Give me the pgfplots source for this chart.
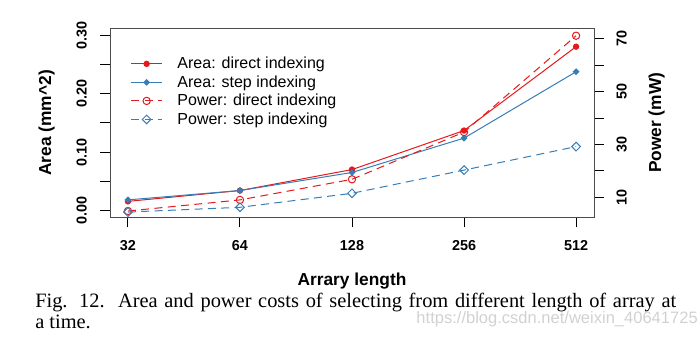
\documentclass[border=0pt]{standalone}
\usepackage{pgfplots}
\pgfplotsset{compat=1.18}
\usepackage{fontspec}
\setmainfont{Liberation Serif}
\newfontfamily\hel{Liberation Sans}
\definecolor{cred}{HTML}{E41A1C}
\definecolor{cblue}{HTML}{377EB8}
\begin{document}
\begin{tikzpicture}[x=1pt,y=1pt]
\path[use as bounding box] (0,0) rectangle (523.5,252);
\pgfplotsset{
  common/.style={
    at={(82.5pt,89pt)}, anchor=south west,
    scale only axis, width=363pt, height=141.75pt,
    xmin=-0.16, xmax=4.16,
    tick align=outside, major tick length=7.5pt,
    tick style={black, line width=0.75pt},
    ticklabel style={font=\hel\bfseries\fontsize{10.8}{12}\selectfont},
  },
  every axis plot/.append style={line width=0.75pt},
}
\begin{axis}[common,
  ymin=-0.012, ymax=0.3125,
  axis line style={black!70, line width=0.75pt},
  xtick={0,1,2,3,4}, xticklabels={32,64,128,256,512},
  xtick pos=bottom, ytick pos=left,
  ytick={0,0.05,0.1,0.15,0.2,0.25,0.3},
  yticklabels={0.00,,0.10,,0.20,,0.30},
  yticklabel style={anchor=center, xshift=-13.7pt, rotate=90},
  xticklabel style={anchor=center, yshift=-13.8pt},
  every axis x label/.style={at={(rel axis cs:0.5,0)}, anchor=center, yshift=-47.5pt, font=\hel\bfseries\fontsize{13}{15}\selectfont},
  every axis y label/.style={at={(rel axis cs:0,0.5)}, anchor=center, xshift=-47.5pt, rotate=90, font=\hel\bfseries\fontsize{13}{15}\selectfont},
  xlabel={Arrary length},
  ylabel={Area (mm\^{}2)},
]
\addplot[cred, mark=*, mark size=2pt] coordinates {(0,0.0154)(1,0.034)(2,0.070)(3,0.137)(4,0.281)};
\addplot[cblue, mark=square*, mark size=1.45pt, mark options={rotate=45}] coordinates {(0,0.018)(1,0.034)(2,0.065)(3,0.124)(4,0.238)};
\end{axis}
\begin{axis}[common,
  ymin=2.4, ymax=74,
  axis x line=none, axis y line*=right,
  axis line style={black!70, line width=0.75pt},
  ytick={10,20,30,40,50,60,70},
  yticklabels={10,,30,,50,,70},
  yticklabel style={anchor=center, xshift=13.3pt, rotate=90},
  every axis y label/.style={at={(rel axis cs:1,0.5)}, anchor=center, xshift=47pt, rotate=90, font=\hel\bfseries\fontsize{13}{15}\selectfont},
  ylabel={Power (mW)},
  legend cell align=left,
  legend style={draw=none, fill=none, inner sep=0pt, outer sep=0pt,
    at={(axis description cs:0.043,0.848)}, anchor=north west,
    row sep=3.7pt, column sep=11.25pt,
    font=\hel\fontsize{12}{14}\selectfont,
    nodes={inner sep=0pt}},
  legend image code/.code={\draw[mark repeat=2, mark phase=2, #1] plot coordinates {(0pt,0pt) (11.5pt,0pt) (23pt,0pt)};},
]
\addlegendimage{cred, line width=0.75pt, mark=*, mark size=2pt}
\addlegendentry{Area: direct indexing}
\addlegendimage{cblue, line width=0.75pt, mark=square*, mark size=1.45pt, mark options={rotate=45}}
\addlegendentry{Area: step indexing}
\addplot[cred, dash pattern=on 6pt off 4pt, mark=o, mark size=2.75pt, mark options={solid}] coordinates {(0,4.8)(1,9.0)(2,16.8)(3,34.7)(4,71.2)};
\addlegendentry{Power: direct indexing}
\addplot[cblue, dash pattern=on 6pt off 4pt, mark=square, mark size=2.3pt, mark options={solid, rotate=45}] coordinates {(0,4.4)(1,6.2)(2,11.5)(3,20.3)(4,29.2)};
\addlegendentry{Power: step indexing}
\end{axis}
\node[anchor=base west, inner sep=0pt] at (26.25,21.75) {\fontsize{15.3}{18}\selectfont\makebox[480.75pt][s]{Fig. 12.\ \ Area and power costs of selecting from different length of array at}};
\node[anchor=base west, inner sep=0pt] at (26.25,5.8) {\fontsize{15.3}{18}\selectfont a time.};
\node[anchor=base east, inner sep=0pt, text=black!18] at (523.5,9.5) {\hel\fontsize{12.4}{14}\selectfont https://blog.csdn.net/weixin\_40641725};
\end{tikzpicture}
\end{document}
